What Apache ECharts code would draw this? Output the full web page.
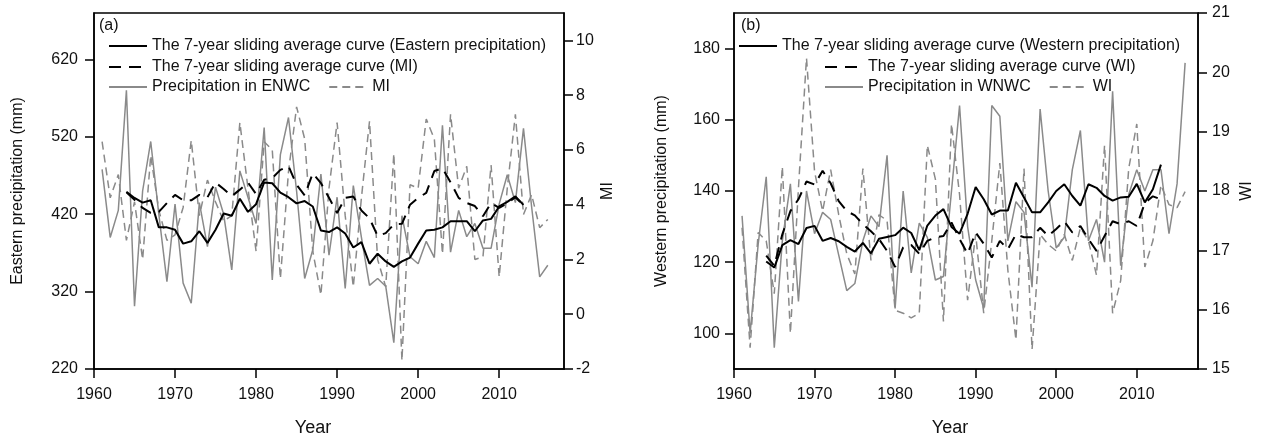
<!DOCTYPE html>
<html>
<head>
<meta charset="utf-8">
<title>Eastern / Western precipitation with MI and WI</title>
<script src="https://cdn.jsdelivr.net/npm/echarts@6/dist/echarts.min.js"></script>
<style>
  html, body { margin: 0; padding: 0; background: #fff; }
  #chart { width: 1263px; height: 442px; }
</style>
</head>
<body>
<div id="chart"></div>
<script>
// yearly series run 1961-2016, the 7-year sliding averages 1964-2013
const firstYear = 1961;
const firstMaYear = 1964;
const yearTicks = [1960, 1970, 1980, 1990, 2000, 2010];

// (a) eastern NW China
const precipEast = [
  478, 390, 425, 580, 301, 450, 514, 420, 333, 433,
  331, 305, 435, 378, 455, 420, 348, 476, 442, 408,
  532, 335, 497, 545, 450, 337, 374, 472, 367, 442,
  324, 457, 390, 328, 337, 327, 254, 418, 365, 356,
  385, 364, 535, 371, 425, 391, 408, 376, 376, 433,
  471, 435, 531, 430, 339, 354
];
const mi = [
  6.3, 4.25, 5.1, 2.7, 4.1, 2.0, 5.8, 3.8, 2.7, 2.9,
  3.9, 6.35, 3.6, 4.9, 4.1, 3.4, 3.6, 7.0, 4.6, 2.3,
  6.3, 6.0, 1.3, 5.2, 7.57, 6.4, 2.3, 0.7, 4.6, 7.0,
  3.6, 1.0, 4.25, 7.05, 2.0, 1.0, 5.87, -1.7, 4.73, 4.6,
  7.13, 6.4, 2.2, 7.3, 4.6, 5.4, 2.0, 2.1, 5.45, 1.36,
  4.6, 7.3, 3.64, 4.37, 3.16, 3.46
];
const precipEastMA = [
  449, 441, 435, 438, 403, 403, 400, 382, 385, 398,
  383, 400, 421, 418, 440, 423, 433, 461, 460, 448,
  442, 434, 437, 430, 399, 397, 403, 395, 377, 384,
  356, 369, 359, 352, 359, 364, 382, 399, 400, 403,
  411, 411, 411, 398, 412, 414, 430, 436, 443, 432
];
const miMA = [
  4.45, 4.18, 3.88, 3.70, 3.74, 4.06, 4.36, 4.16, 4.16, 4.36,
  4.27, 4.81, 4.57, 4.31, 4.55, 4.81, 4.39, 4.91, 4.97, 5.27,
  5.41, 4.73, 4.34, 5.15, 4.79, 4.25, 3.70, 4.25, 4.30, 3.79,
  3.50, 2.86, 2.96, 3.28, 3.30, 4.00, 4.25, 4.43, 5.23, 5.33,
  4.82, 4.25, 4.06, 3.95, 3.58, 4.06, 3.88, 4.06, 4.27, 3.98
];

// (b) western NW China
const precipWest = [
  133, 100, 125, 144, 96, 126, 142, 109, 140, 128,
  134, 132, 122, 112, 114, 126, 133, 130, 150, 107,
  140, 117, 131, 127, 115, 116, 140, 164, 130, 115,
  107, 164, 161, 126, 137, 134, 113, 163, 140, 124,
  127, 146, 157, 126, 132, 120, 168, 119, 139, 146,
  140, 146, 146, 128, 142, 176
];
const wi = [
  17.38, 15.36, 17.3, 17.16, 16.27, 18.41, 15.6, 18.05, 20.24, 18.33,
  17.66, 18.36, 17.6, 16.94, 16.6, 18.38, 16.83, 17.6, 17.5, 15.99,
  15.94, 15.86, 15.94, 18.77, 18.2, 15.8, 19.13, 17.94, 16.16, 17.27,
  15.94, 17.16, 18.47, 16.66, 15.49, 18.38, 15.33, 17.27, 17.1, 16.99,
  17.27, 16.83, 17.38, 17.16, 16.58, 18.77, 15.94, 16.49, 18.38, 19.13,
  16.72, 17.16, 18.1, 17.77, 17.72, 17.99
];
const precipWestMA = [
  120.2, 118.5, 124.8, 126.2, 125.1, 129.6, 130.2, 126.0, 126.8, 125.9,
  124.3, 123.0, 125.4, 122.5, 126.6, 127.1, 127.6, 129.7, 128.2, 123.4,
  130.3, 133.1, 134.9, 129.9, 128.0, 133.6, 141.1, 137.7, 133.4, 134.5,
  134.5, 142.3, 138.2, 134.0, 134.0, 136.8, 140.0, 141.9, 138.6, 135.9,
  141.9, 140.9, 138.6, 137.3, 138.2, 138.4, 142.0, 136.8, 140.5, 147.4
];
const wiMA = [
  16.91, 16.74, 17.27, 17.66, 17.86, 18.16, 18.11, 18.34, 18.13, 17.83,
  17.66, 17.59, 17.44, 17.32, 17.19, 16.99, 16.72, 17.05, 17.09, 16.94,
  17.16, 17.22, 17.24, 17.47, 17.19, 16.94, 17.3, 17.11, 16.88, 17.16,
  17.02, 17.27, 17.22, 17.22, 17.38, 17.24, 17.36, 17.49, 17.3, 17.41,
  17.19, 16.99, 17.24, 17.49, 17.44, 17.49, 17.41, 17.8, 17.91, 17.86
];

const eastTicks = [220, 320, 420, 520, 620];
const miTicks = [-2, 0, 2, 4, 6, 8, 10];
const westTicks = [100, 120, 140, 160, 180];
const wiTicks = [15, 16, 17, 18, 19, 20, 21];

const GREY = '#8a8a8a';
const FONT = '"Liberation Sans", Arial, sans-serif';

function pairs(start, values) {
  return values.map((v, i) => [start + i, v]);
}

function xAxis(gridIndex, max) {
  return {
    type: 'value', gridIndex, min: 1960, max,
    name: 'Year', nameLocation: 'middle', nameGap: 50,
    nameTextStyle: { fontSize: 18, color: '#111', padding: [0, 32, 0, 0] },
    axisLine: { onZero: false, lineStyle: { color: '#000', width: 1.5 } },
    axisTick: { customValues: yearTicks, length: 9, lineStyle: { color: '#000', width: 1.5 } },
    axisLabel: {
      customValues: yearTicks, margin: 18, fontSize: 16, color: '#111',
      formatter: v => String(v)
    },
    splitLine: { show: false }
  };
}

function yAxis(gridIndex, position, min, max, ticks, name, nameGap, margin) {
  return {
    type: 'value', gridIndex, position, min, max,
    name, nameLocation: 'middle', nameGap, nameRotate: 90,
    nameTextStyle: { fontSize: 16, color: '#111' },
    axisLine: { show: true, onZero: false, lineStyle: { color: '#000', width: 1.5 } },
    axisTick: { customValues: ticks, length: 9, lineStyle: { color: '#000', width: 1.5 } },
    axisLabel: { customValues: ticks, margin, fontSize: 16, color: '#111' },
    splitLine: { show: false }
  };
}

function line(name, xi, yi, data, color, width, type, z) {
  return {
    name, type: 'line', xAxisIndex: xi, yAxisIndex: yi, data,
    symbol: 'none', color, z,
    lineStyle: { color, width, type }
  };
}

// legend icons: just the line, the symbol is hidden
function legendRow(left, top, names) {
  return {
    left, top, data: names, orient: 'horizontal', padding: 0,
    itemWidth: 38, itemHeight: 14, itemGap: 18, selectedMode: false,
    itemStyle: { opacity: 0 },
    textStyle: { fontSize: 16, color: '#111' }
  };
}

const chart = echarts.init(document.getElementById('chart'));
chart.setOption({
  animation: false,
  textStyle: { fontFamily: FONT },
  title: [
    { text: '(a)', left: 99, top: 18, padding: 0, textStyle: { fontSize: 16, fontWeight: 'normal', color: '#111' } },
    { text: '(b)', left: 741, top: 18, padding: 0, textStyle: { fontSize: 16, fontWeight: 'normal', color: '#111' } }
  ],
  legend: [
    legendRow(108, 38, ['The 7-year sliding average curve (Eastern precipitation)']),
    legendRow(108, 59, ['The 7-year sliding average curve (MI)']),
    legendRow(108, 79, ['Precipitation in ENWC', 'MI']),
    legendRow(738, 38, ['The 7-year sliding average curve (Western precipitation)']),
    legendRow(824, 59, ['The 7-year sliding average curve (WI)']),
    legendRow(824, 79, ['Precipitation in WNWC', 'WI'])
  ],
  grid: [
    { left: 94, top: 13, width: 470, height: 360, show: true, borderColor: '#000', borderWidth: 1.5 },
    { left: 734, top: 13, width: 464, height: 360, show: true, borderColor: '#000', borderWidth: 1.5 }
  ],
  xAxis: [xAxis(0, 2018), xAxis(1, 2017.6)],
  yAxis: [
    yAxis(0, 'left', 220, 680, eastTicks, 'Eastern precipitation (mm)', 68, 16),
    yAxis(0, 'right', -2, 11, miTicks, 'MI', 36, 12),
    yAxis(1, 'left', 90, 190, westTicks, 'Western precipitation (mm)', 64, 14),
    yAxis(1, 'right', 15, 21, wiTicks, 'WI', 41, 14)
  ],
  series: [
    line('Precipitation in ENWC', 0, 0, pairs(firstYear, precipEast), GREY, 1.5, 'solid', 2),
    line('MI', 0, 1, pairs(firstYear, mi), GREY, 1.5, [8, 5], 2),
    line('The 7-year sliding average curve (Eastern precipitation)', 0, 0, pairs(firstMaYear, precipEastMA), '#000', 2, 'solid', 3),
    line('The 7-year sliding average curve (MI)', 0, 1, pairs(firstMaYear, miMA), '#000', 2, [12, 8], 3),
    line('Precipitation in WNWC', 1, 2, pairs(firstYear, precipWest), GREY, 1.5, 'solid', 2),
    line('WI', 1, 3, pairs(firstYear, wi), GREY, 1.5, [8, 5], 2),
    line('The 7-year sliding average curve (Western precipitation)', 1, 2, pairs(firstMaYear, precipWestMA), '#000', 2, 'solid', 3),
    line('The 7-year sliding average curve (WI)', 1, 3, pairs(firstMaYear, wiMA), '#000', 2, [12, 8], 3)
  ]
});
</script>
</body>
</html>
